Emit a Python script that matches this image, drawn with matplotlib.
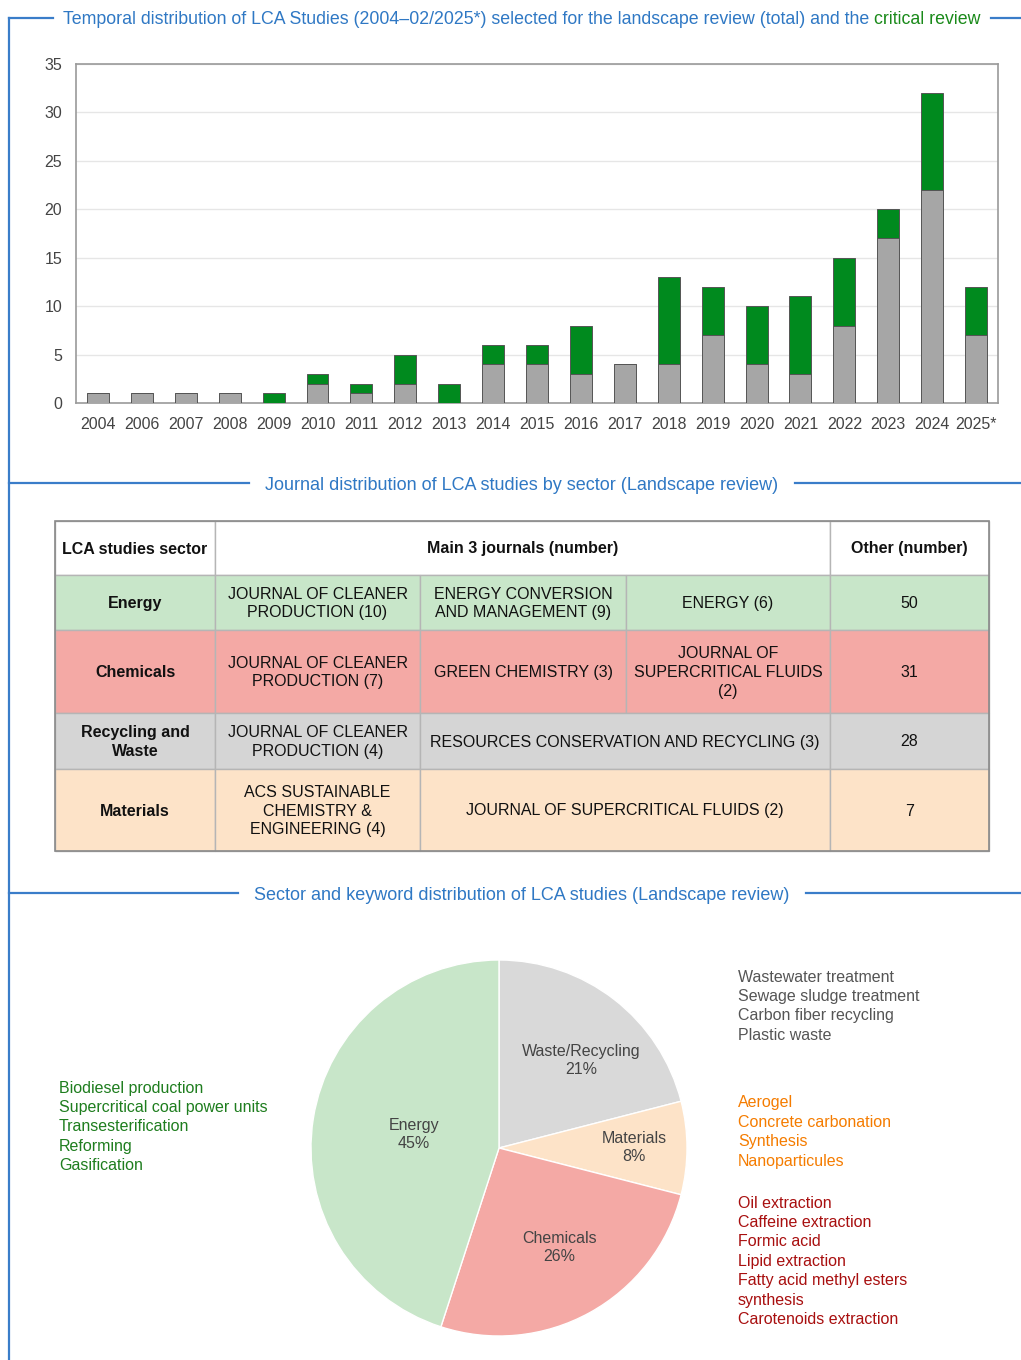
import matplotlib
matplotlib.use('Agg')
import matplotlib.pyplot as plt
from matplotlib.patches import Rectangle
import numpy as np

plt.rcParams['font.family'] = ['Liberation Sans', 'DejaVu Sans']

# --- bar chart data ---
years = ['2004', '2006', '2007', '2008', '2009', '2010', '2011', '2012', '2013', '2014', '2015',
         '2016', '2017', '2018', '2019', '2020', '2021', '2022', '2023', '2024', '2025*']
landscape = [1, 1, 1, 1, 0, 2, 1, 2, 0, 4, 4, 3, 4, 4, 7, 4, 3, 8, 17, 22, 7]
critical = [0, 0, 0, 0, 1, 1, 1, 3, 2, 2, 2, 5, 0, 9, 5, 6, 8, 7, 3, 10, 5]

# --- table data ---
tbl_header = ['LCA studies sector', 'Main 3 journals (number)', 'Other (number)']
sectors = ['Energy', 'Chemicals', 'Recycling and\nWaste', 'Materials']
journals = [
    ['JOURNAL OF CLEANER\nPRODUCTION (10)', 'ENERGY CONVERSION\nAND MANAGEMENT (9)', 'ENERGY (6)'],
    ['JOURNAL OF CLEANER\nPRODUCTION (7)', 'GREEN CHEMISTRY (3)', 'JOURNAL OF\nSUPERCRITICAL FLUIDS\n(2)'],
    ['JOURNAL OF CLEANER\nPRODUCTION (4)', 'RESOURCES CONSERVATION AND RECYCLING (3)'],
    ['ACS SUSTAINABLE\nCHEMISTRY &\nENGINEERING (4)', 'JOURNAL OF SUPERCRITICAL FLUIDS (2)'],
]
other = [50, 31, 28, 7]
row_colors = ['#c8e6c9', '#f4a9a5', '#d5d5d5', '#fde3c8']

# --- pie data ---
pie_labels = ['Waste/Recycling', 'Materials', 'Chemicals', 'Energy']
pie_values = [21, 8, 26, 45]
pie_colors = ['#d9d9d9', '#fde3c8', '#f4a9a5', '#c8e6c9']
# label placement (radius, angle shift from wedge middle in degrees)
pie_label_r = [0.64, 0.72, 0.62, 0.46]
pie_label_shift = [-5.5, 0, 2.5, 0]
kw_energy = ['Biodiesel production', 'Supercritical coal power units', 'Transesterification',
             'Reforming', 'Gasification']
kw_waste = ['Wastewater treatment', 'Sewage sludge treatment', 'Carbon fiber recycling', 'Plastic waste']
kw_materials = ['Aerogel', 'Concrete carbonation', 'Synthesis', 'Nanoparticules']
kw_chemicals = ['Oil extraction', 'Caffeine extraction', 'Formic acid', 'Lipid extraction',
                'Fatty acid methyl esters', 'synthesis', 'Carotenoids extraction']

W, H = 1021, 1360
BLUE = '#2f78c4'
LINE = '#3a7dc9'
fig = plt.figure(figsize=(W / 100, H / 100), dpi=100)

# canvas in pixel coords for frame, headings, table and keywords
cv = fig.add_axes([0, 0, 1, 1])
cv.set_xlim(0, W)
cv.set_ylim(H, 0)
cv.axis('off')

# left frame line
cv.plot([9, 9], [18, H], color=LINE, lw=1.6)

fig.canvas.draw()
rend = fig.canvas.get_renderer()


def heading(parts, y, gap=12, fs=13):
    # parts: list of (text, color); centred around x=522
    arts = []
    for i, (s, c) in enumerate(parts):
        if i == 0:
            t = cv.text(0, y + 2, s, color=c, fontsize=fs, va='center', ha='left')
        else:
            t = cv.annotate(s, xy=(1, 0), xycoords=arts[-1], va='bottom', ha='left',
                            color=c, fontsize=fs)
        arts.append(t)
    fig.canvas.draw()
    tot = sum(a.get_window_extent(rend).width for a in arts)
    x0 = 522 - tot / 2
    arts[0].set_x(x0)
    cv.plot([9, x0 - gap], [y, y], color=LINE, lw=1.6)
    cv.plot([x0 + tot + gap, W], [y, y], color=LINE, lw=1.6)


heading([('Temporal distribution of LCA Studies (2004\u201302/2025*) selected for the landscape review (total) and the ', BLUE),
         ('critical review', '#1a8a1a')], 18, gap=10, fs=12.8)
heading([('Journal distribution of LCA studies by sector (Landscape review)', BLUE)], 483, gap=16)
heading([('Sector and keyword distribution of LCA studies (Landscape review)', BLUE)], 893, gap=16)

# --- bar chart ---
ax = fig.add_axes([76 / W, 1 - 403 / H, (998 - 76) / W, (403 - 64) / H])
x = np.arange(len(years))
ax.bar(x, landscape, width=0.5, color='#a6a6a6', edgecolor='#555555', linewidth=0.7, zorder=3)
ax.bar(x, critical, width=0.5, bottom=landscape, color='#008a1e', edgecolor='#555555',
       linewidth=0.7, zorder=3)
ax.set_ylim(0, 35)
ax.set_xlim(-0.5, len(years) - 0.5)
ax.set_yticks(range(0, 36, 5))
ax.set_xticks(x)
ax.set_xticklabels(years)
ax.tick_params(length=0, labelsize=11.5, colors='#444444', pad=10)
ax.tick_params(axis='y', pad=10)
ax.grid(axis='y', color='#e6e6e6', lw=1, zorder=0)
for s in ax.spines.values():
    s.set_color('#9a9a9a')
    s.set_linewidth(1.2)

# --- table ---
cx = [55, 215, 420, 626, 830, 989]
ry = [521, 575, 630, 713, 769, 851]
tfs = 11.5
edge = '#b5b5b5'


def cell(x0, x1, y0, y1, txt, fc, bold=False):
    cv.add_patch(Rectangle((x0, y0), x1 - x0, y1 - y0, facecolor=fc, edgecolor=edge, lw=1))
    cv.text((x0 + x1) / 2, (y0 + y1) / 2 + 1, txt, ha='center', va='center', fontsize=tfs,
            color='#111111', fontweight='bold' if bold else 'normal', linespacing=1.33,
            multialignment='center')


cell(cx[0], cx[1], ry[0], ry[1], tbl_header[0], 'white', True)
cell(cx[1], cx[4], ry[0], ry[1], tbl_header[1], 'white', True)
cell(cx[4], cx[5], ry[0], ry[1], tbl_header[2], 'white', True)
for i in range(len(sectors)):
    fc = row_colors[i]
    y0, y1 = ry[i + 1], ry[i + 2]
    cell(cx[0], cx[1], y0, y1, sectors[i], fc, True)
    js = journals[i]
    if len(js) == 3:
        for j in range(3):
            cell(cx[1 + j], cx[2 + j], y0, y1, js[j], fc)
    else:
        cell(cx[1], cx[2], y0, y1, js[0], fc)
        cell(cx[2], cx[4], y0, y1, js[1], fc)
    cell(cx[4], cx[5], y0, y1, str(other[i]), fc)
cv.add_patch(Rectangle((cx[0], ry[0]), cx[-1] - cx[0], ry[-1] - ry[0], fill=False,
                       edgecolor='#8a8a8a', lw=1.2))

# --- pie ---
pc = (499, 1148)
pr = 188
pax = fig.add_axes([(pc[0] - pr) / W, 1 - (pc[1] + pr) / H, 2 * pr / W, 2 * pr / H])
wedges, _ = pax.pie(pie_values, colors=pie_colors, startangle=90, counterclock=False,
                    wedgeprops=dict(edgecolor='white', linewidth=1))
pax.set_xlim(-1, 1)
pax.set_ylim(-1, 1)
for w, lab, v, r, sh in zip(wedges, pie_labels, pie_values, pie_label_r, pie_label_shift):
    ang = np.deg2rad((w.theta1 + w.theta2) / 2 + sh)
    pax.text(r * np.cos(ang), r * np.sin(ang), f'{lab}\n{v}%', ha='center', va='center',
             fontsize=11.5, color='#444444', linespacing=1.25)


def kw_list(items, x0, y0, color, step=19.4):
    for k, s in enumerate(items):
        cv.text(x0, y0 + k * step, s, color=color, fontsize=11.5, va='center', ha='left')


kw_list(kw_energy, 59, 1088, '#1e7d1e')
kw_list(kw_waste, 738, 977, '#555555')
kw_list(kw_materials, 738, 1103, '#f57c00')
kw_list(kw_chemicals, 738, 1203, '#a80f0f')

fig.savefig('out.png', dpi=100)
